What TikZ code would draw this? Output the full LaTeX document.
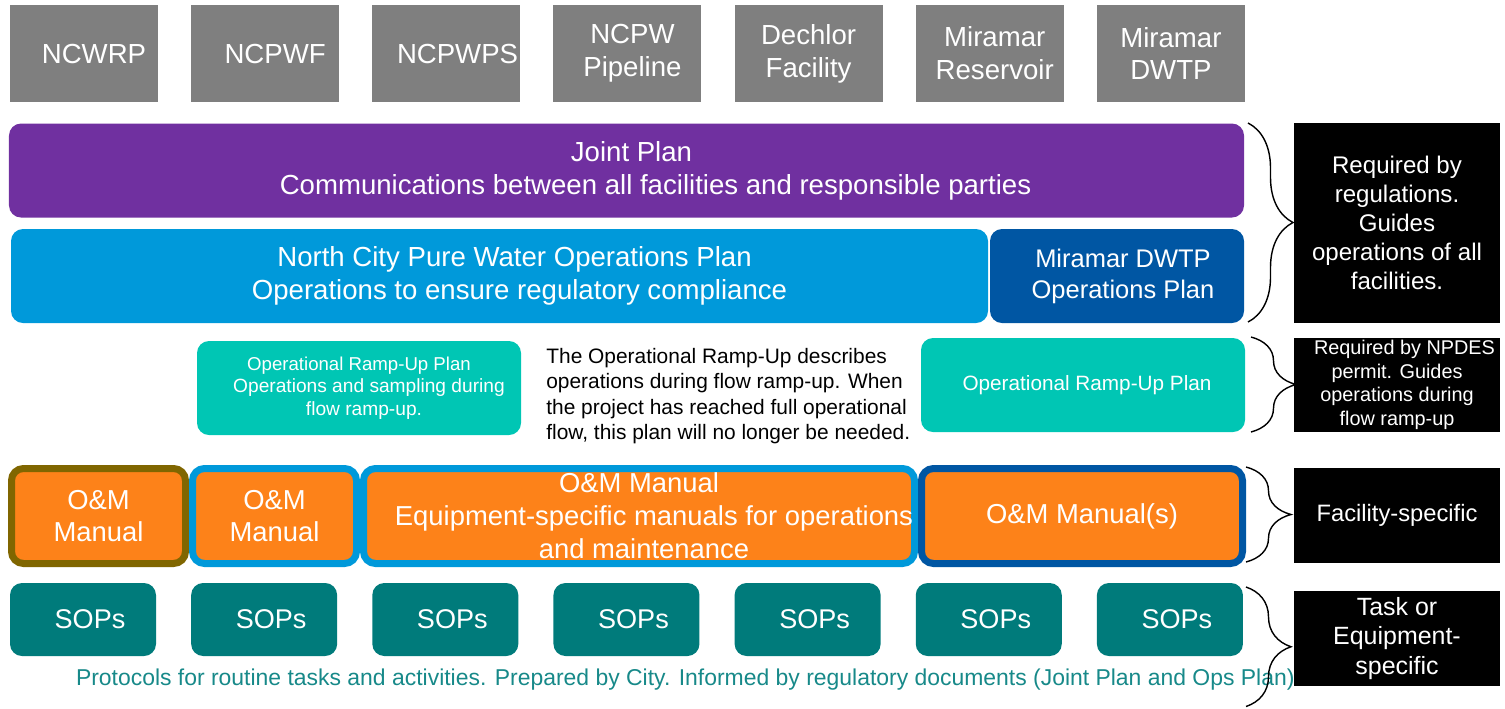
\documentclass[tikz,border=0pt]{standalone}
\usepackage{fontspec}
\setmainfont{Liberation Sans}
\usetikzlibrary{positioning,decorations.pathreplacing}

\definecolor{facgray}{HTML}{7F7F7F}
\definecolor{jointpurple}{HTML}{7030A0}
\definecolor{opsblue}{HTML}{0099DA}
\definecolor{dwtpblue}{HTML}{0056A3}
\definecolor{rampteal}{HTML}{00C6B4}
\definecolor{omorange}{HTML}{FD8219}
\definecolor{omolive}{HTML}{806600}
\definecolor{sopteal}{HTML}{007B7B}
\definecolor{prottext}{HTML}{178989}

\tikzset{
  facility/.style={fill=facgray, text=white, minimum width=2.96cm, minimum height=1.94cm,
    inner sep=0pt, align=center, font=\fontsize{15.7}{18.7}\selectfont},
  plan/.style={rounded corners=0.24cm, text=white, align=center, inner sep=0pt,
    minimum height=1.88cm, font=\fontsize{15.7}{18.7}\selectfont},
  rampplan/.style={plan, fill=rampteal, minimum width=6.48cm},
  manual/.style={fill=omorange, rounded corners=0.24cm, line width=0.14cm, text=white,
    align=center, inner sep=0pt, minimum height=1.9cm, font=\fontsize{15.6}{18.7}\selectfont},
  sop/.style={fill=sopteal, rounded corners=0.24cm, text=white, inner sep=0pt,
    minimum width=2.92cm, minimum height=1.46cm, font=\fontsize{15.4}{18}\selectfont,
    execute at begin node={\hspace*{0.28cm}}},
  note/.style={fill=black, text=white, align=center, inner sep=0pt, minimum width=4.12cm},
  bracket/.style={decorate, decoration={brace, amplitude=0.9cm}, line width=0.8pt}
}

\begin{document}
\begin{tikzpicture}[node distance=3.623cm]
\useasboundingbox (0,0) rectangle (30.1,-14.16);

% facilities
\node(NCWRP)[facility] at (1.68,-1.07) {\hspace*{0.4cm}NCWRP};
\node(NCPWF)[facility, right of=NCWRP] {\hspace*{0.4cm}NCPWF};
\node(NCPWPS)[facility, right of=NCPWF] {\hspace*{0.45cm}NCPWPS};
\node(NCPWPipeline)[facility, right of=NCPWPS] {\hspace*{0.2cm}NCPW\\\hspace*{0.2cm}Pipeline};
\node(Dechlor)[facility, right of=NCPWPipeline] {Dechlor\\Facility};
\node(MiramarRes)[facility, right of=Dechlor] {\hspace*{0.2cm}Miramar\\\hspace*{0.2cm}Reservoir};
\node(MiramarDWTP)[facility, right of=MiramarRes] {Miramar\\DWTP};

% plans
\node(JointPlan)[plan, fill=jointpurple, minimum width=24.7cm] at (12.53,-3.41)
  {\hspace*{0.2cm}Joint Plan\\\hspace*{1.16cm}Communications between all facilities and responsible parties};
\node(OpsPlan)[plan, fill=opsblue, minimum width=19.54cm] at (9.99,-5.52)
  {\hspace*{0.6cm}North City Pure Water Operations Plan\\\hspace*{0.8cm}Operations to ensure regulatory compliance};
\node(DWTPPlan)[plan, fill=dwtpblue, minimum width=5.08cm, font=\fontsize{14.5}{17.6}\selectfont]
  at (22.34,-5.52) {\hspace*{0.24cm}Miramar DWTP\\\hspace*{0.24cm}Operations Plan};

% ramp-up
\node(RampLeft)[rampplan, font=\fontsize{10.9}{12.8}\selectfont] at (7.18,-7.76)
  {{\fontsize{10.6}{12.8}\selectfont Operational Ramp-Up Plan}\\
   \hspace*{0.4cm}Operations and sampling during\\
   \hspace*{0.2cm}flow ramp-up.};
\node(RampNote)[anchor=west, align=left, inner sep=0pt, font=\fontsize{11.9}{14.5}\selectfont]
  at (10.92,-7.92) {The Operational Ramp-Up describes\\operations during flow ramp-up. When\\
  the project has reached full operational\\flow, this plan will no longer be needed.};
\node(RampRight)[rampplan, font=\fontsize{11.8}{14}\selectfont] at (21.66,-7.70)
  {\hspace*{0.16cm}Operational Ramp-Up Plan};

% O&M manuals
\node(OMa)[manual, draw=omolive, minimum width=3.48cm] at (1.97,-10.32) {O\&M\\Manual};
\node(OMb)[manual, draw=opsblue, minimum width=3.28cm] at (5.49,-10.32) {O\&M\\Manual};
\node(OMc)[manual, draw=opsblue, minimum width=11.02cm] at (12.78,-10.32)
  {O\&M Manual\\\hspace*{0.6cm}Equipment-specific manuals for operations\\\hspace*{0.2cm}and maintenance};
\node(OMd)[manual, draw=dwtpblue, minimum width=6.42cm] at (21.64,-10.32) {O\&M Manual(s)};

% SOPs
\node(SOPa)[sop] at (1.66,-12.39) {SOPs};
\node(SOPb)[sop, right of=SOPa] {SOPs};
\node(SOPc)[sop, right of=SOPb] {SOPs};
\node(SOPd)[sop, right of=SOPc] {SOPs};
\node(SOPe)[sop, right of=SOPd] {SOPs};
\node(SOPf)[sop, right of=SOPe] {SOPs};
\node(SOPg)[sop, right of=SOPf] {SOPs};
\node(Protocols)[text=prottext, font=\fontsize{13.05}{15}\selectfont] at (13.77,-13.6)
  {Protocols for routine tasks and activities. Prepared by City. Informed by regulatory documents (Joint Plan and Ops Plan).};

% notes
\node(RegNote)[note, minimum height=4.0cm, font=\fontsize{13.7}{16.4}\selectfont] at (27.94,-4.46)
  {Required by\\regulations.\\Guides\\operations of all\\facilities.};
\node(NPDESNote)[note, minimum height=1.88cm, font=\fontsize{11.3}{13.4}\selectfont] at (27.94,-7.70)
  {\hspace*{0.3cm}Required by NPDES\\permit. Guides\\operations during\\flow ramp-up};
\node(FacNote)[note, minimum height=1.9cm, font=\fontsize{13.5}{16}\selectfont] at (27.94,-10.31)
  {Facility-specific};
\node(TaskNote)[note, minimum height=1.9cm, font=\fontsize{14.2}{16.7}\selectfont] at (27.94,-12.77)
  {Task or\\Equipment-\\specific};

% braces
\coordinate(regtop) at (24.96,-2.46);
\coordinate(regbot) at (24.96,-6.44);
\coordinate(ramptop) at (25.02,-6.74);
\coordinate(rampbot) at (25.02,-8.64);
\coordinate(omtop) at (24.92,-9.34);
\coordinate(ombot) at (24.92,-11.24);
\coordinate(soptop) at (24.92,-11.74);
\coordinate(sopbot) at (24.92,-14.13);
\draw[bracket] (regtop) -- (regbot);
\draw[bracket] (ramptop) -- (rampbot);
\draw[bracket] (omtop) -- (ombot);
\draw[bracket] (soptop) -- (sopbot);
\end{tikzpicture}
\end{document}
